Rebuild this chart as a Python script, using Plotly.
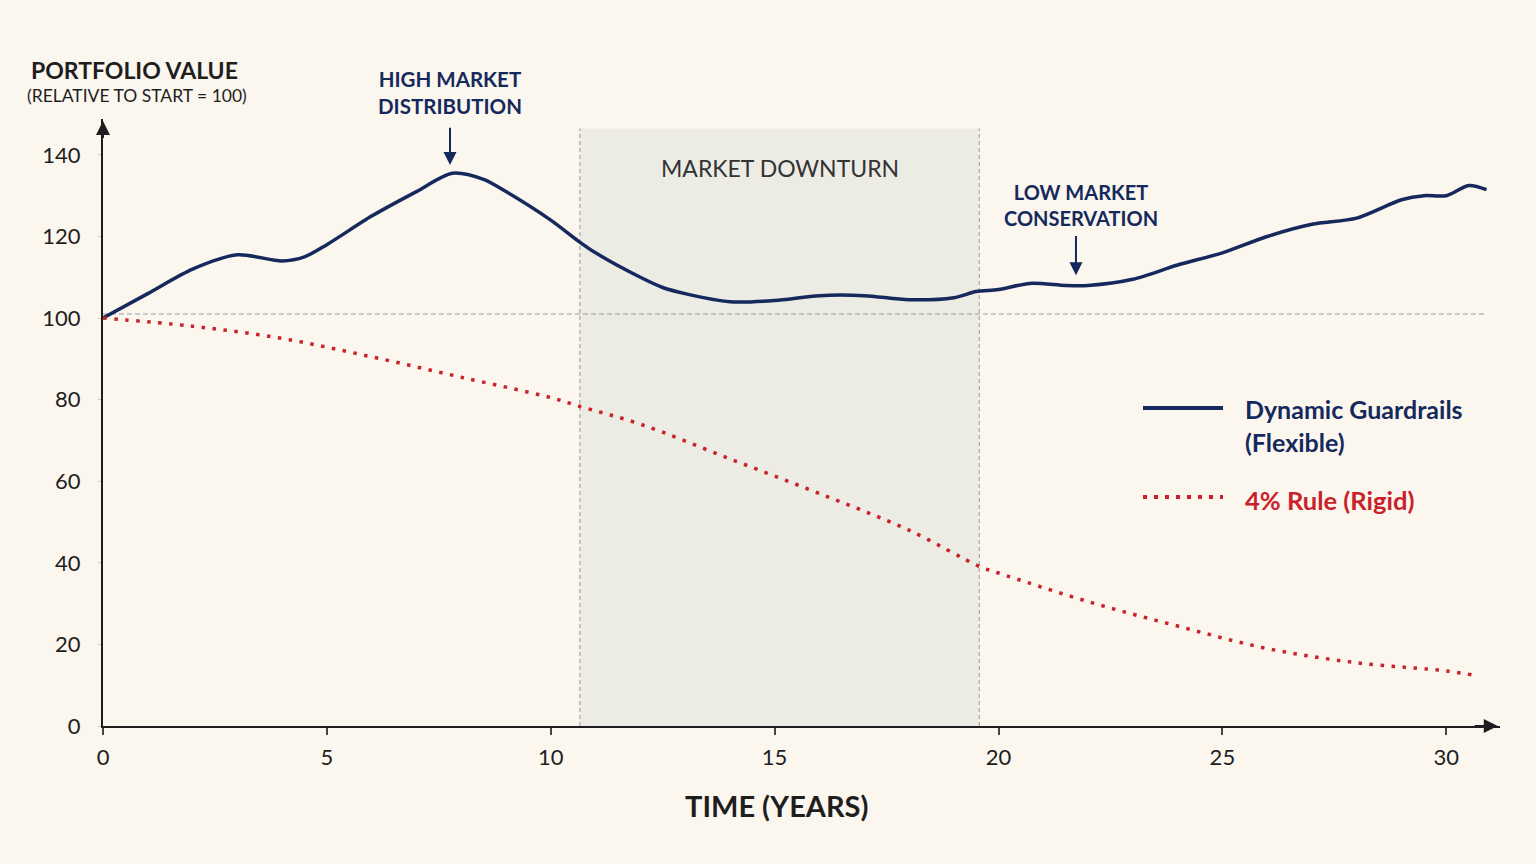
import plotly.graph_objects as go

# ---- data ----
years_flex = [0, 1, 2, 3, 4, 4.5, 5, 6, 7, 7.8, 8.5, 9, 10, 10.6, 11, 12, 12.5, 13, 14, 15, 16, 17, 18,
              19, 19.5, 20, 20.7, 21.5, 22, 23, 24, 25, 26, 27, 28, 29, 29.5, 30, 30.5, 30.9]
value_flex = [100, 106, 112, 115.5, 114, 115, 118, 125, 131, 135.5, 134, 131, 124, 119, 116, 110, 107.5,
              106, 104, 104.3, 105.5, 105.5, 104.5, 105, 106.5, 107, 108.5, 108, 108, 109.5, 113, 116,
              120, 123, 124.5, 129, 130, 130, 132.5, 131.5]

years_rigid = [0, 2, 4, 6, 8, 10, 10.6, 12, 14, 16, 18, 19.6, 20, 22, 24, 26, 28, 30, 30.6]
value_rigid = [100, 98, 95, 90.5, 85.5, 80.5, 78.5, 74, 65.5, 57, 48, 39, 37.5, 30.5, 24.5, 19, 15.5, 13.5, 12.5]

x_ticks = [0, 5, 10, 15, 20, 25, 30]
y_ticks = [0, 20, 40, 60, 80, 100, 120, 140]

downturn_start, downturn_end = 10.65, 19.57
baseline = 100

NAVY = "#15295c"
RED = "#c9222b"
BG = "#fbf6ee"
INK = "#1e1e1e"
FONT = "Lato"

X_MAX, Y_MAX = 31.2, 148.8

# figure geometry
W, H = 1536, 864
ML, MR, MT, MB = 103, 36, 119, 138
PW, PH = W - ML - MR, H - MT - MB


def px(xp):
    return (xp - ML) / PW


def py(yp):
    return (H - MB - yp) / PH


fig = go.Figure()

fig.add_trace(go.Scatter(x=years_flex, y=value_flex, mode="lines",
                         line=dict(color=NAVY, width=3.5, shape="spline", smoothing=0.8),
                         showlegend=False, hoverinfo="skip"))
fig.add_trace(go.Scatter(x=years_rigid, y=value_rigid, mode="lines",
                         line=dict(color=RED, width=3.5, shape="spline", dash="3.5px,7.5px"),
                         showlegend=False, hoverinfo="skip"))

# downturn band
fig.add_shape(type="rect", xref="x", yref="y", x0=downturn_start, x1=downturn_end, y0=0, y1=146.5,
              fillcolor="#ecebe4", line=dict(width=0), layer="below")
for xv in (downturn_start, downturn_end):
    fig.add_shape(type="line", xref="x", yref="y", x0=xv, x1=xv, y0=0, y1=146.5,
                  line=dict(color="#9a9a9a", width=1, dash="4px,3px"), layer="below")
# baseline
fig.add_shape(type="line", xref="x", yref="y", x0=0, x1=30.9, y0=baseline + 1, y1=baseline + 1,
              line=dict(color="#9a9a9a", width=1, dash="5px,3px"), layer="below")

annotations = []
# axis arrows
annotations.append(dict(x=X_MAX - 0.05, y=0, xref="x", yref="y", ax=X_MAX - 0.6, ay=0, axref="x", ayref="y",
                        text="", showarrow=True, arrowhead=2, arrowsize=1.4, arrowwidth=2, arrowcolor=INK))
annotations.append(dict(x=0, y=Y_MAX - 0.5, xref="x", yref="y", ax=0, ay=Y_MAX - 5, axref="x", ayref="y",
                        text="", showarrow=True, arrowhead=2, arrowsize=1.4, arrowwidth=2, arrowcolor=INK))

# y-axis title
annotations.append(dict(x=px(29), y=py(70), xref="paper", yref="paper", xanchor="left", yanchor="middle",
                        text="<b>PORTFOLIO VALUE</b>", showarrow=False,
                        font=dict(family=FONT, size=23, color=INK)))
annotations.append(dict(x=px(25), y=py(96), xref="paper", yref="paper", xanchor="left", yanchor="middle",
                        text="(RELATIVE TO START = 100)", showarrow=False,
                        font=dict(family=FONT, size=17.5, color=INK)))
# x-axis title
annotations.append(dict(x=px(776), y=py(805), xref="paper", yref="paper", xanchor="center", yanchor="middle",
                        text="<b>TIME (YEARS)</b>", showarrow=False,
                        font=dict(family=FONT, size=29, color=INK)))

# callouts
annotations.append(dict(x=px(450), y=py(92), xref="paper", yref="paper", xanchor="center", yanchor="middle",
                        text="<b>HIGH MARKET<br>DISTRIBUTION</b>", showarrow=False,
                        font=dict(family=FONT, size=20.5, color=NAVY)))
annotations.append(dict(x=7.75, y=137.5, xref="x", yref="y", ax=7.75, ay=147, axref="x", ayref="y",
                        text="", showarrow=True, arrowhead=2, arrowsize=1.3, arrowwidth=2, arrowcolor=NAVY))
annotations.append(dict(x=px(1081), y=py(205), xref="paper", yref="paper", xanchor="center", yanchor="middle",
                        text="<b>LOW MARKET<br>CONSERVATION</b>", showarrow=False,
                        font=dict(family=FONT, size=20, color=NAVY)))
annotations.append(dict(x=21.73, y=110.5, xref="x", yref="y", ax=21.73, ay=120.5, axref="x", ayref="y",
                        text="", showarrow=True, arrowhead=2, arrowsize=1.3, arrowwidth=2, arrowcolor=NAVY))
annotations.append(dict(x=(downturn_start + downturn_end) / 2, y=py(168), xref="x", yref="paper",
                        xanchor="center", yanchor="middle", text="MARKET DOWNTURN", showarrow=False,
                        font=dict(family=FONT, size=23, color="#333333")))

# custom legend
fig.add_shape(type="line", xref="paper", yref="paper", x0=px(1143), x1=px(1223), y0=py(408), y1=py(408),
              line=dict(color=NAVY, width=4))
fig.add_shape(type="line", xref="paper", yref="paper", x0=px(1143), x1=px(1223), y0=py(497), y1=py(497),
              line=dict(color=RED, width=4, dash="4px,7px"))
annotations.append(dict(x=px(1243), y=py(425), xref="paper", yref="paper", xanchor="left", yanchor="middle",
                        align="left", text="<b>Dynamic Guardrails<br>(Flexible)</b>", showarrow=False,
                        font=dict(family=FONT, size=25, color=NAVY)))
annotations.append(dict(x=px(1243), y=py(500), xref="paper", yref="paper", xanchor="left", yanchor="middle",
                        align="left", text="<b>4% Rule (Rigid)</b>", showarrow=False,
                        font=dict(family=FONT, size=25.5, color=RED)))

fig.update_layout(
    width=W, height=H,
    margin=dict(l=ML, r=MR, t=MT, b=MB, pad=0),
    paper_bgcolor=BG, plot_bgcolor=BG,
    showlegend=False,
    annotations=annotations,
    xaxis=dict(range=[0, X_MAX], tickvals=x_ticks, showgrid=False, zeroline=False,
               showline=True, linecolor=INK, linewidth=2, ticks="outside", ticklen=7, tickwidth=1.5,
               tickcolor="#444", ticklabelstandoff=4,
               tickfont=dict(family=FONT, size=22, color=INK)),
    yaxis=dict(range=[0, Y_MAX], tickvals=y_ticks, showgrid=False, zeroline=False,
               showline=True, linecolor=INK, linewidth=2, ticks="outside", ticklen=3, tickwidth=1,
               tickcolor="#cfcac0", ticklabelstandoff=13,
               tickfont=dict(family=FONT, size=22, color=INK)),
)

fig.write_html("out.html")
